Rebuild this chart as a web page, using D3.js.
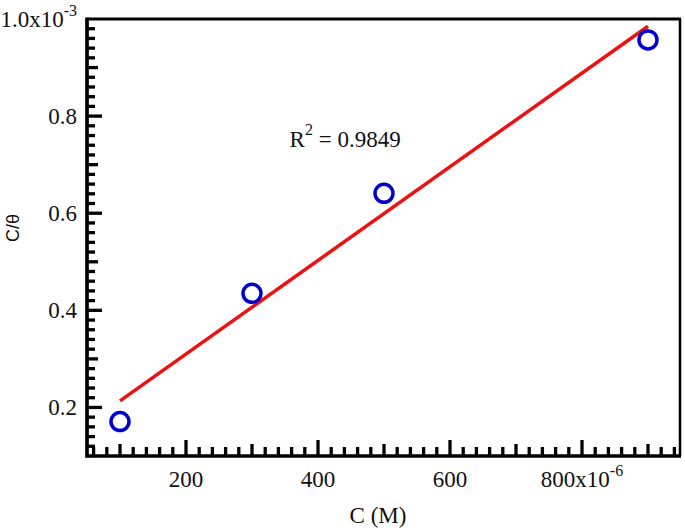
<!DOCTYPE html>
<html>
<head>
<meta charset="utf-8">
<script src="https://cdn.jsdelivr.net/npm/d3@7"></script>
<style>
body { margin: 0; background: #fff; }
text { fill: #111; }
</style>
</head>
<body>
<div id="chart"></div>
<script>
// C in units of 10^-6 M, C/theta in units of 10^-3
const concentration = [100, 300, 500, 900]
const cOverTheta = [0.171, 0.435, 0.641, 0.957]

const xTickLabels = [200, 400, 600, 800]
const yTickLabels = [0.2, 0.4, 0.6, 0.8, 1.0]
const r2Value = '0.9849'

const width = 685, height = 531
const plotL = 87, plotR = 681, plotT = 19, plotB = 456

const serif = '"Liberation Serif", "Times New Roman", serif'

const x = d3.scaleLinear().domain([50, 950]).range([plotL, plotR])
const y = d3.scaleLinear().domain([0.1, 1.0]).range([plotB, plotT])

const svg = d3.select('#chart')
.append('svg')
.attr('width', width)
.attr('height', height)

// least squares fit
const mx = d3.mean(concentration), my = d3.mean(cOverTheta)
const sxy = d3.sum(concentration, (d, i) => (d - mx) * (cOverTheta[i] - my))
const sxx = d3.sum(concentration, d => (d - mx) * (d - mx))
const slope = sxy / sxx
const intercept = my - slope * mx
const fitX = d3.extent(concentration)

svg.append('line')
.attr('x1', x(fitX[0])).attr('y1', y(intercept + slope * fitX[0]))
.attr('x2', x(fitX[1])).attr('y2', y(intercept + slope * fitX[1]))
.attr('stroke', '#ee1111')
.attr('stroke-width', 3.5)

svg.selectAll('circle.pt')
.data(concentration)
.enter()
.append('circle')
.attr('class', 'pt')
.attr('cx', d => x(d))
.attr('cy', (d, i) => y(cOverTheta[i]))
.attr('r', 9)
.attr('fill', 'none')
.attr('stroke', '#0000cc')
.attr('stroke-width', 3.5)

// ticks: minor / medium / major, pointing inward
const xTicks = d3.range(60, 950, 20).map(v => ({ v, len: v % 200 === 0 ? 16 : v % 100 === 0 ? 12 : 9 }))
const yTicks = d3.range(6, 50).map(k => ({ v: k / 50, len: k % 10 === 0 ? 15 : k % 5 === 0 ? 11 : 8 }))

svg.append('g')
.selectAll('line')
.data(xTicks)
.enter()
.append('line')
.attr('x1', d => x(d.v)).attr('x2', d => x(d.v))
.attr('y1', plotB).attr('y2', d => plotB - d.len)
.attr('stroke', '#000')
.attr('stroke-width', 3.3)

svg.append('g')
.selectAll('line')
.data(yTicks)
.enter()
.append('line')
.attr('y1', d => y(d.v)).attr('y2', d => y(d.v))
.attr('x1', plotL).attr('x2', d => plotL + d.len)
.attr('stroke', '#000')
.attr('stroke-width', 3.3)

// frame
svg.append('line').attr('x1', plotL).attr('x2', plotL).attr('y1', plotT - 1.5).attr('y2', plotB + 1.75)
.attr('stroke', '#000').attr('stroke-width', 3.7)
svg.append('line').attr('x1', plotL).attr('x2', plotR).attr('y1', plotB).attr('y2', plotB)
.attr('stroke', '#000').attr('stroke-width', 3.7)
svg.append('line').attr('x1', plotL).attr('x2', plotR).attr('y1', plotT).attr('y2', plotT)
.attr('stroke', '#000').attr('stroke-width', 3)
svg.append('line').attr('x1', plotR - 1).attr('x2', plotR - 1).attr('y1', plotT).attr('y2', plotB)
.attr('stroke', '#000').attr('stroke-width', 2.5)

// tick labels
const xl = svg.selectAll('text.xl')
.data(xTickLabels)
.enter()
.append('text')
.attr('class', 'xl')
.attr('x', d => x(d))
.attr('y', 487)
.attr('text-anchor', 'middle')
.attr('font-family', serif)
.attr('font-size', 23)

xl.append('tspan').text(d => d + (d === 800 ? 'x10' : ''))
xl.filter(d => d === 800).append('tspan')
.attr('dy', -11).attr('font-size', 16).text('-6')

const yl = svg.selectAll('text.yl')
.data(yTickLabels)
.enter()
.append('text')
.attr('class', 'yl')
.attr('x', 77)
.attr('y', d => y(d) + 8)
.attr('text-anchor', 'end')
.attr('font-family', serif)
.attr('font-size', 23)

yl.append('tspan').text(d => d === 1.0 ? '1.0x10' : d3.format('.1f')(d))
yl.filter(d => d === 1.0).append('tspan')
.attr('dy', -11).attr('font-size', 16).text('-3')

// R^2 annotation
const r2 = svg.append('text')
.attr('x', x(357))
.attr('y', y(0.736))
.attr('font-family', serif)
.attr('font-size', 23)
r2.append('tspan').text('R')
r2.append('tspan').attr('dy', -12).attr('font-size', 16).text('2')
r2.append('tspan').attr('dy', 12).text(' = ' + r2Value)

// axis titles
svg.append('text')
.attr('x', (plotL + plotR) / 2 - 6)
.attr('y', 523)
.attr('text-anchor', 'middle')
.attr('font-family', serif)
.attr('font-size', 23)
.text('C (M)')

svg.append('text')
.attr('transform', 'translate(19,228) rotate(-90)')
.attr('text-anchor', 'middle')
.attr('font-family', '"Liberation Sans", Arial, sans-serif')
.attr('font-size', 18)
.text('C/θ')
</script>
</body>
</html>
